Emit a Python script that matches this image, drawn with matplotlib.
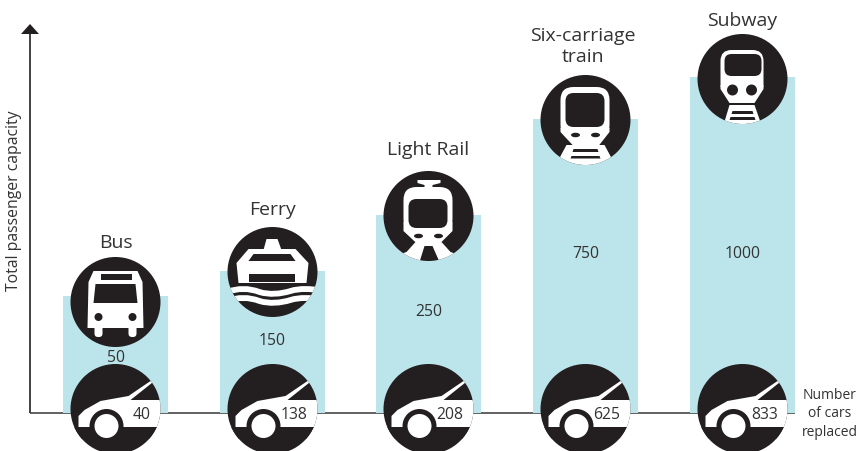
import matplotlib
matplotlib.use("Agg")
import matplotlib.pyplot as plt
from matplotlib.patches import Circle, Ellipse, FancyBboxPatch, PathPatch, Polygon
from matplotlib.path import Path

plt.rcParams['font.family'] = ['Open Sans', 'DejaVu Sans']

# Data
modes = ["Bus", "Ferry", "Light Rail", "Six-carriage\ntrain", "Subway"]
capacity = [50, 150, 250, 750, 1000]
cars_replaced = [40, 138, 208, 625, 833]
# the picture is not to scale, so bar heights are measured separately (pixels)
bar_heights = [117, 142, 198, 294, 336]

# Layout, in pixels of the image
bar_centres = [115.5, 272.5, 428.5, 585.5, 742.5]
bar_width = 105
baseline_px = 414
icon_y_px = [303, 273, 217, 121, 80]
car_y_px = 410
name_x_px = [115.5, 272.5, 428.5, 583, 742.5]
name_y_px = [243, 210, 150, 46.5, 21.5]
value_y_px = [358, 341, 312, 254, 254]

DARK = "#231F20"
BAR = "#BCE4EB"
TEXT = "#333333"
WHITE = "white"

fig = plt.figure(figsize=(8.58, 4.52), dpi=100)
ax = fig.add_axes([0, 0, 1, 1])
ax.set_xlim(0, 858)
ax.set_ylim(baseline_px - 452, baseline_px)
ax.set_axis_off()


def py(y_px):
    return baseline_px - y_px


# Small drawing helpers, coordinates are offsets from the icon centre (y down)
def disc(cx, cy):
    c = Circle((cx, py(cy)), 45, fc=DARK, ec="none", zorder=3)
    ax.add_patch(c)
    return c


def poly(cx, cy, pts, clip, color=WHITE, z=4):
    p = Polygon([(cx + a, py(cy + b)) for a, b in pts], closed=True, fc=color, ec="none", zorder=z)
    ax.add_patch(p)
    p.set_clip_path(clip)
    return p


def rbox(cx, cy, x0, y0, x1, y1, r, clip, color=WHITE, z=4):
    p = FancyBboxPatch((cx + x0, py(cy + y1)), x1 - x0, y1 - y0,
                       boxstyle=f"round,pad=0,rounding_size={r}", fc=color, ec="none", zorder=z)
    ax.add_patch(p)
    p.set_clip_path(clip)
    return p


def dot(cx, cy, a, b, r, clip, color=DARK, z=6):
    p = Circle((cx + a, py(cy + b)), r, fc=color, ec="none", zorder=z)
    ax.add_patch(p)
    p.set_clip_path(clip)
    return p


def lamp(cx, cy, a, b, clip):
    p = Ellipse((cx + a, py(cy + b)), 9, 4.5, fc=DARK, ec="none", zorder=6)
    ax.add_patch(p)
    p.set_clip_path(clip)


def wave(cx, cy, b, clip):
    verts = [(-46, b + 1), (-34, b - 3), (-24, b - 3), (-13, b + 1), (-3, b + 4), (8, b + 3), (18, b),
             (28, b - 3), (38, b - 2), (46, b - 1)]
    codes = [Path.MOVETO] + [Path.CURVE4] * 9
    pts = [(cx + a, py(cy + c)) for a, c in verts]
    p = PathPatch(Path(pts, codes), fc="none", ec=WHITE, lw=4.2, zorder=4)
    ax.add_patch(p)
    p.set_clip_path(clip)


def bus(cx, cy):
    c = disc(cx, cy)
    poly(cx, cy, [(-22, -31), (22, -31), (27, -20), (28, 26), (-28, 26), (-27, -20)], c)
    rbox(cx, cy, -21, 20, -13, 35, 3.5, c)
    rbox(cx, cy, 13, 20, 21, 35, 3.5, c)
    poly(cx, cy, [(-15, -28), (16, -28), (16, -22), (-15, -22)], c, DARK, 5)
    poly(cx, cy, [(-20, -18), (20, -18), (22, 1), (-22, 1)], c, DARK, 5)
    dot(cx, cy, -17, 15, 4, c)
    dot(cx, cy, 17, 15, 4, c)


def ferry(cx, cy):
    c = disc(cx, cy)
    poly(cx, cy, [(-6, -33), (5, -33), (9, -22), (-9, -22)], c)
    poly(cx, cy, [(-24, -23), (23, -23), (36, -9), (34, 11), (-34, 11), (-36, -9)], c)
    poly(cx, cy, [(-19, -18), (18, -18), (23, -11), (-24, -11)], c, DARK, 5)
    poly(cx, cy, [(-24, 2), (22, 2), (22, 10), (-24, 10)], c, DARK, 5)
    wave(cx, cy, 19, c)
    wave(cx, cy, 28, c)


def light_rail(cx, cy):
    c = disc(cx, cy)
    poly(cx, cy, [(-11, -36), (12, -36), (12, -33), (4, -31), (4, -27), (-4, -27), (-4, -31), (-11, -33)], c)
    rbox(cx, cy, -25, -29, 24, 16, 13, c)
    poly(cx, cy, [(-25, 6), (24, 6), (24, 15), (9, 30), (-9, 30), (-25, 15)], c)
    # legs
    poly(cx, cy, [(-13, 26), (-22, 36), (-28, 38), (-22, 46), (-9, 46), (-4, 30)], c)
    poly(cx, cy, [(13, 26), (22, 36), (28, 38), (22, 46), (11, 46), (4, 30)], c)
    rbox(cx, cy, -20, -17, 19, 12, 8, c, DARK, 5)
    lamp(cx, cy, -10, 20, c)
    lamp(cx, cy, 10, 20, c)


def train(cx, cy):
    c = disc(cx, cy)
    rbox(cx, cy, -25, -33, 24, 18, 13, c)
    poly(cx, cy, [(-25, 8), (24, 8), (24, 12), (13, 26), (-12, 26), (-25, 12)], c)
    rbox(cx, cy, -20, -27, 19, 7, 8, c, DARK, 5)
    lamp(cx, cy, -10, 15, c)
    lamp(cx, cy, 10, 15, c)
    # tracks
    poly(cx, cy, [(-19, 25), (19, 25), (26, 38), (30, 46), (-30, 46), (-26, 38)], c)
    poly(cx, cy, [(-12, 29), (12, 29), (13, 32), (-13, 32)], c, DARK, 5)
    poly(cx, cy, [(-14, 36), (14, 36), (15, 38.5), (-15, 38.5)], c, DARK, 5)


def subway(cx, cy):
    c = disc(cx, cy)
    rbox(cx, cy, -22, -29, 21, 16, 11, c)
    poly(cx, cy, [(-22, 6), (21, 6), (21, 10), (12, 24), (-13, 24), (-22, 10)], c)
    rbox(cx, cy, -18, -25, 19, -3, 7, c, DARK, 5)
    dot(cx, cy, -10, 11, 5.5, c)
    dot(cx, cy, 9, 11, 5.5, c)
    # tracks
    poly(cx, cy, [(-13, 26), (12, 26), (19, 46), (-19, 46)], c)
    poly(cx, cy, [(-10, 32), (10, 32), (11, 35), (-11, 35)], c, DARK, 5)
    poly(cx, cy, [(-12, 38), (12, 38), (13, 41), (-13, 41)], c, DARK, 5)


def car(cx, cy):
    c = disc(cx, cy)
    # hood and right side of the car
    poly(cx, cy, [(-37, 18), (-37, 7), (-31, 1), (-15, -8), (13, -13), (35, -28), (37, -26.5), (15, -9),
                  (46, -9), (46, 18)], c)
    dot(cx, cy, -9, 17, 17, c, DARK, 5)
    dot(cx, cy, -9, 17, 12, c, WHITE, 6)
    # anything below the hood stays dark
    poly(cx, cy, [(-46, 18), (-21, 18), (-21, 30), (-46, 30)], c, DARK, 5)
    poly(cx, cy, [(3, 18), (46, 18), (46, 30), (3, 30)], c, DARK, 5)


icon_funcs = [bus, ferry, light_rail, train, subway]

# Bars, drawn through the axes from the values above
ax.bar(bar_centres, bar_heights, width=bar_width, color=BAR, zorder=2)

# Axes lines and arrow
ax.plot([30, 795], [0, 0], color="#555555", lw=1.3, zorder=1, solid_capstyle="butt")
ax.plot([30, 30], [0, py(33)], color="#333333", lw=1.3, zorder=1, solid_capstyle="butt")
ax.add_patch(Polygon([(21, py(35)), (39, py(35)), (30, py(25))], closed=True, fc=DARK, ec="none", zorder=2))

for i, x in enumerate(bar_centres):
    icon_funcs[i](x, icon_y_px[i])
    car(x, car_y_px)
    ax.text(name_x_px[i], py(name_y_px[i]), modes[i], ha="center", va="center", fontsize=14, color=TEXT,
            linespacing=1.15, zorder=7)
    ax.text(x, py(value_y_px[i]), str(capacity[i]), ha="center", va="center", fontsize=11.3, color=TEXT, zorder=7)
    ax.text(x + 35, py(415.5), str(cars_replaced[i]), ha="right", va="center", fontsize=11.3, color=TEXT, zorder=7)

ax.text(14, py(201), "Total passenger capacity", rotation=90, ha="center", va="center", fontsize=11.3, color=TEXT)
ax.text(830, py(414), "Number\nof cars\nreplaced", ha="center", va="center", fontsize=10, color=TEXT,
        linespacing=1.35, clip_on=True)

fig.savefig("out.png", dpi=100)
